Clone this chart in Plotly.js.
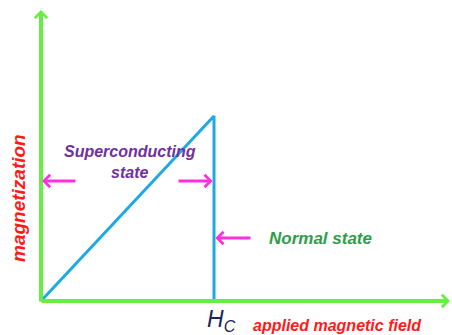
<!DOCTYPE html>
<html>
<head>
<meta charset="utf-8">
<script src="https://cdn.plot.ly/plotly-3.0.1.min.js"></script>
<style>html,body{margin:0;padding:0;background:#fff;}#chart{width:452px;height:335px;}</style>
</head>
<body>
<div id="chart"></div>
<script>
// Data (normalised units: H / Hc, M / M(Hc))
var field = [0, 1, 1];
var magnetization = [0, 1, 0];
var hcLabel = 'H<sub>C</sub>';
var xLabel = 'applied magnetic field';
var yLabel = 'magnetization';
var scLabel = 'Superconducting<br>state';
var nsLabel = 'Normal state';

// pixel -> data mapping helpers (layout only)
var W = 452, H = 335, ox = 41, oy = 301, sx = 173, sy = 185;
function X(px){ return (px - ox) / sx; }
function Y(py){ return (oy - py) / sy; }

var font = 'Liberation Sans, Arial, sans-serif';
var green = '#66ee44', magenta = '#ff2ee0';

var trace = {
  x: field, y: magnetization, mode: 'lines', type: 'scatter',
  line: {color: '#1ea9e6', width: 3}, hoverinfo: 'skip'
};

function arrow(x, y, ax, ay, color, width, size){
  return {x: x, y: y, ax: ax, ay: ay, xref: 'x', yref: 'y', axref: 'x', ayref: 'y',
    showarrow: true, arrowhead: 4, arrowwidth: width, arrowsize: size, arrowcolor: color, text: ''};
}

var annotations = [
  // axes
  arrow(X(450), 0, X(40), 0, green, 4, 0.6),
  arrow(0, Y(10), 0, Y(303), green, 4, 0.6),
  // state arrows
  arrow(X(42), Y(181), X(77), Y(181), magenta, 3, 0.8),
  arrow(field[1] - 0.008, Y(181), X(177), Y(181), magenta, 3, 0.8),
  arrow(field[1] + 0.008, Y(238), X(252), Y(238), magenta, 3, 0.8),
  // labels
  {x: X(130), y: Y(162), xref: 'x', yref: 'y', text: '<i><b>' + scLabel + '</b></i>', showarrow: false,
    font: {family: font, size: 16, color: '#7030a0'}, align: 'center'},
  {x: X(320), y: Y(238), xref: 'x', yref: 'y', text: '<i><b>' + nsLabel + '</b></i>', showarrow: false,
    font: {family: font, size: 17, color: '#2e9e48'}},
  {x: X(221), y: Y(320), xref: 'x', yref: 'y', text: '<i>' + hcLabel + '</i>', showarrow: false,
    font: {family: font, size: 23, color: '#1c2755'}},
  {x: X(337), y: Y(325), xref: 'x', yref: 'y', text: '<i><b>' + xLabel + '</b></i>', showarrow: false,
    font: {family: font, size: 16, color: '#ff1a1a'}},
  {x: X(18), y: Y(198), xref: 'x', yref: 'y', text: '<i><b>' + yLabel + '</b></i>', showarrow: false,
    textangle: -90, font: {family: font, size: 19, color: '#ff1a1a'}}
];

var layout = {
  width: W, height: H,
  margin: {l: 0, r: 0, t: 0, b: 0},
  paper_bgcolor: '#fff', plot_bgcolor: '#fff',
  showlegend: false,
  xaxis: {range: [X(0), X(W)], visible: false, fixedrange: true},
  yaxis: {range: [Y(H), Y(0)], visible: false, fixedrange: true},
  annotations: annotations
};

Plotly.newPlot('chart', [trace], layout, {displayModeBar: false, staticPlot: true});
</script>
</body>
</html>
